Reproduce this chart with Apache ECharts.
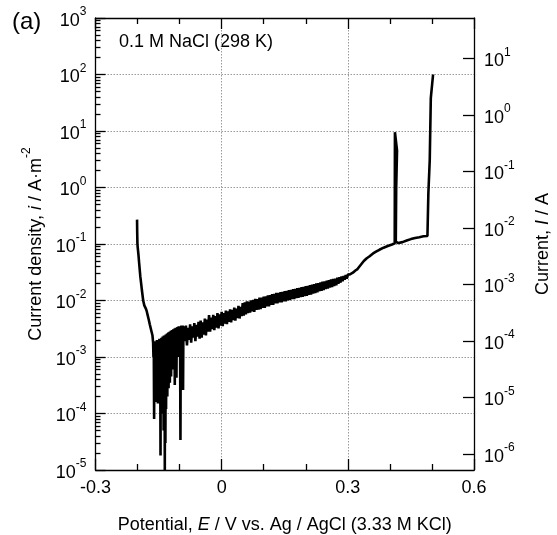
<!DOCTYPE html>
<html>
<head>
<meta charset="utf-8">
<script src="https://cdn.jsdelivr.net/npm/echarts@6/dist/echarts.min.js"></script>
<style>html,body{margin:0;padding:0;background:#fff}#c{width:557px;height:535px}</style>
</head>
<body>
<div id="c"></div>
<script>
// ---- data: potential E (V vs Ag/AgCl) and current density i (A/m^2)
const eDescent = [-0.2012,-0.2009,-0.2003,-0.1995,-0.1980,-0.1960,-0.1935,-0.1900,-0.1866,-0.1840,-0.1820,-0.1800,-0.1780,-0.1760,-0.1735,-0.1710,-0.1690,-0.1667,-0.1645];
const iDescent = [0.27,0.17,0.10,0.085,0.066,0.044,0.027,0.016,0.010,0.0082,0.0086,0.0071,0.0064,0.0055,0.0046,0.0038,0.0033,0.0028,0.0024];

const eMin = [-0.1630,-0.1622,-0.1615,-0.1606,-0.1600,-0.1592,-0.1585,-0.1577,-0.1570,-0.1562,-0.1555,-0.1547,-0.1540,-0.1532,-0.1525,-0.1517,-0.1510,-0.1502,-0.1495,-0.1487,-0.1480,-0.1472,-0.1465,-0.1458,-0.1454,-0.1448,-0.1440,-0.1432,-0.1425,-0.1418,-0.1410,-0.1402,-0.1395,-0.1388,-0.1380,-0.1372,-0.1365,-0.1358,-0.1352,-0.1346,-0.1338,-0.1330,-0.1322,-0.1315,-0.1307,-0.1300,-0.1292,-0.1285,-0.1277,-0.1270,-0.1262,-0.1255,-0.1247,-0.1240,-0.1232,-0.1225,-0.1217,-0.1210,-0.1202,-0.1195,-0.1187,-0.1180,-0.1172,-0.1165,-0.1157,-0.1150,-0.1142,-0.1135,-0.1127,-0.1120,-0.1115,-0.1108,-0.1100,-0.1093,-0.1085,-0.1078,-0.1075,-0.1068,-0.1060,-0.1052,-0.1045,-0.1037,-0.1030,-0.1022,-0.1015,-0.1007,-0.1000,-0.0990,-0.0980,-0.0972,-0.0965,-0.0957,-0.0950,-0.0942,-0.0935,-0.0927,-0.0918,-0.0910,-0.0903];
const iMin = [1.8e-3,1.0e-3,1.9e-3,8.0e-5,1.7e-3,2.5e-4,1.8e-3,1.8e-4,1.9e-3,3.0e-4,1.8e-3,1.6e-4,2.0e-3,2.8e-4,1.9e-3,1.5e-4,2.0e-3,3.5e-4,1.9e-3,2.0e-4,2.1e-3,2.6e-4,2.0e-3,1.7e-4,1.8e-5,2.0e-3,2.2e-4,2.2e-3,1.2e-4,2.1e-3,3.0e-4,2.3e-3,1.0e-4,2.2e-3,5.0e-5,2.4e-3,1.5e-4,2.3e-3,1.0e-5,2.2e-3,3.0e-5,2.5e-3,1.2e-4,2.4e-3,2.5e-4,2.6e-3,2.0e-4,2.5e-3,3.5e-4,2.7e-3,2.8e-4,2.6e-3,4.5e-4,2.8e-3,3.5e-4,2.7e-3,5.5e-4,2.9e-3,4.5e-4,2.8e-3,7.0e-4,3.0e-3,6.0e-4,2.9e-3,8.0e-4,3.1e-3,7.0e-4,3.0e-3,9.0e-4,3.2e-3,3.2e-4,3.1e-3,1.0e-3,3.3e-3,8.0e-4,3.2e-3,4.3e-4,3.3e-3,1.1e-3,3.4e-3,1.0e-3,3.3e-3,1.3e-3,3.5e-3,1.2e-3,3.4e-3,1.5e-3,3.5e-3,3.4e-5,3.4e-3,1.5e-3,3.6e-3,1.7e-3,3.5e-3,1.5e-3,3.6e-3,2.6e-4,3.5e-3,2.0e-3];

const eBand = [-0.0900,-0.0875,-0.0850,-0.0825,-0.0800,-0.0775,-0.0750,-0.0725,-0.0700,-0.0675,-0.0650,-0.0625,-0.0600,-0.0575,-0.0550,-0.0525,-0.0500,-0.0475,-0.0450,-0.0425,-0.0400,-0.0375,-0.0350,-0.0325,-0.0300,-0.0275,-0.0250,-0.0225,-0.0200,-0.0175,-0.0150,-0.0125,-0.0100,-0.0075,-0.0050,-0.0025,0.0000,0.0025,0.0050,0.0075,0.0100,0.0125,0.0150,0.0175,0.0200,0.0225,0.0250,0.0275,0.0300,0.0325,0.0350,0.0375,0.0400,0.0425,0.0450,0.0475,0.0500,0.0525,
  0.0550,0.0575,0.0600,0.0625,0.0650,0.0675,0.0700,0.0725,0.0750,0.0775,0.0800,0.0825,0.0850,0.0875,0.0900,0.0925,0.0950,0.0975,0.1000,0.1025,0.1050,0.1075,0.1100,0.1125,0.1150,0.1175,0.1200,0.1225,0.1250,0.1275,0.1300,0.1325,0.1350,0.1375,0.1400,0.1425,0.1450,0.1475,0.1500,0.1525,0.1550,0.1575,0.1600,0.1625,0.1650,0.1675,0.1700,0.1725,0.1750,0.1775,0.1800,0.1825,0.1850,0.1875,0.1900,0.1925,0.1950,0.1975,0.2000,0.2025,0.2050,0.2075,0.2100,0.2125,0.2150,0.2175,0.2200,0.2225,0.2250,0.2275,0.2300,0.2325,0.2350,0.2375,0.2400,0.2425,0.2450,0.2475,0.2500,0.2525,0.2550,0.2575,0.2600,0.2625,0.2650,0.2675,0.2700,0.2725,0.2750,0.2775,0.2800,0.2825,0.2850,0.2875,0.2900,0.2925,0.2950,0.2975,0.3000];
const iBand = [3.4e-3,1.9e-3,3.6e-3,1.6e-3,3.3e-3,2.0e-3,3.8e-3,1.8e-3,3.5e-3,2.2e-3,4.0e-3,1.9e-3,3.7e-3,2.3e-3,4.2e-3,2.1e-3,4.4e-3,2.2e-3,4.1e-3,2.5e-3,4.8e-3,2.4e-3,4.6e-3,2.8e-3,5.5e-3,2.8e-3,5.0e-3,3.1e-3,5.6e-3,3.0e-3,5.3e-3,3.3e-3,6.0e-3,3.2e-3,5.7e-3,3.6e-3,6.3e-3,3.5e-3,6.0e-3,3.9e-3,6.6e-3,3.8e-3,6.4e-3,4.2e-3,7.0e-3,4.1e-3,6.8e-3,4.5e-3,7.5e-3,4.4e-3,7.2e-3,4.9e-3,8.0e-3,4.8e-3,7.7e-3,5.3e-3,9.0e-3,5.4e-3,
  9.3e-3,5.7e-3,9.7e-3,6.0e-3,9.6e-3,6.1e-3,1.01e-2,6.4e-3,1.03e-2,6.3e-3,1.07e-2,6.8e-3,1.06e-2,6.9e-3,1.12e-2,7.0e-3,1.13e-2,7.4e-3,1.17e-2,7.4e-3,1.18e-2,7.9e-3,1.23e-2,7.9e-3,1.24e-2,8.4e-3,1.29e-2,8.4e-3,1.31e-2,8.9e-3,1.36e-2,8.9e-3,1.37e-2,9.3e-3,1.41e-2,9.3e-3,1.42e-2,9.7e-3,1.47e-2,9.7e-3,1.48e-2,1.01e-2,1.53e-2,1.02e-2,1.54e-2,1.06e-2,1.59e-2,1.06e-2,1.61e-2,1.10e-2,1.66e-2,1.11e-2,1.67e-2,1.15e-2,1.73e-2,1.16e-2,1.74e-2,1.20e-2,1.80e-2,1.21e-2,1.81e-2,1.26e-2,1.87e-2,1.27e-2,1.90e-2,1.33e-2,1.94e-2,1.35e-2,2.01e-2,1.39e-2,2.03e-2,1.46e-2,2.08e-2,1.48e-2,2.15e-2,1.53e-2,2.18e-2,1.59e-2,2.25e-2,1.62e-2,2.28e-2,1.70e-2,2.35e-2,1.73e-2,2.41e-2,1.80e-2,2.44e-2,1.86e-2,2.53e-2,1.98e-2,2.58e-2,2.07e-2,2.67e-2,2.19e-2,2.72e-2,2.33e-2,2.82e-2,2.43e-2,2.88e-2];

const eAnodic = [0.305,0.312,0.318,0.323,0.330,0.338,0.345,0.351,0.360,0.368,0.375,0.385,0.395,0.405,0.4115,0.4120,0.4170,0.4150,0.4140,0.4200,0.4300,0.4400,0.4500,0.4600,0.4700,0.4800,0.4893,0.4905,0.4915,0.4948,0.4973,0.5027];
const iAnodic = [0.029,0.031,0.034,0.036,0.042,0.050,0.056,0.060,0.068,0.074,0.079,0.086,0.092,0.098,0.103,9.5,4.5,1.0,0.11,0.104,0.108,0.115,0.122,0.128,0.132,0.137,0.139,0.145,0.8,3.1,38,100];

// axis settings
const xTicks = [-0.3, 0, 0.3, 0.6];
const leftDecades = [-5,-4,-3,-2,-1,0,1,2,3];
const rightDecades = [-6,-5,-4,-3,-2,-1,0,1];
const rightShiftDecades = 1.287; // right axis (current, A) = left (density) shifted down by this many decades

const E = eDescent.concat(eMin, eBand, eAnodic);
const I = iDescent.concat(iMin, iBand, iAnodic);
const data = E.map((e, k) => [e, I[k]]);

const minorVals = [];
for (let n = leftDecades[0]; n < leftDecades[leftDecades.length-1]; n++) {
  for (let k = 2; k <= 9; k++) minorVals.push(k * Math.pow(10, n));
}

const FONT = 'Liberation Sans, Arial, Helvetica, sans-serif';
const rich = {
  b: {fontSize: 18, fontFamily: FONT, color: '#000', lineHeight: 24, verticalAlign: 'bottom'},
  s: {fontSize: 12, fontFamily: FONT, color: '#000', lineHeight: 12, verticalAlign: 'top'},
  i: {fontSize: 18, fontFamily: FONT, color: '#000', fontStyle: 'italic', lineHeight: 24, verticalAlign: 'bottom'},
  n: {fontSize: 18, fontFamily: FONT, color: '#000', lineHeight: 24, verticalAlign: 'bottom'}
};
const expFmt = v => '{b|10}{s|' + Math.round(Math.log10(v)) + '}';
const black = {color: '#000', width: 1.3};
const gridLine = {show: true, lineStyle: {color: '#9a9a9a', type: [1.5, 1.5], width: 1}};

const chart = echarts.init(document.getElementById('c'), null, {renderer: 'canvas'});
chart.setOption({
  animation: false,
  backgroundColor: '#fff',
  grid: {left: 95.5, right: 83, top: 18, bottom: 65, containLabel: false, outerBoundsMode: 'none'},
  graphic: [
    {type: 'text', left: 12, top: 10, style: {text: '(a)', fontSize: 24, fontFamily: FONT, fill: '#000'}},
    {type: 'text', left: 119, top: 33, style: {text: '0.1 M NaCl (298 K)', fontSize: 18, fontFamily: FONT, fill: '#000'}}
  ],
  xAxis: [
    {type: 'value', position: 'bottom', min: xTicks[0], max: xTicks[xTicks.length-1], interval: 0.3,
     axisLine: {show: true, onZero: false, lineStyle: black},
     axisTick: {show: true, inside: true, length: 11, lineStyle: black},
     minorTick: {show: true, splitNumber: 3, length: 6, lineStyle: black},
     splitLine: gridLine,
     axisLabel: {fontSize: 18, fontFamily: FONT, color: '#000', margin: 9},
     name: '{n|Potential, }{i|E}{n| / V vs. Ag / AgCl (3.33 M KCl)}', nameLocation: 'middle', nameGap: 40,
     nameTextStyle: {fontSize: 18, fontFamily: FONT, color: '#000', rich: rich}},
    {type: 'value', position: 'top', min: xTicks[0], max: xTicks[xTicks.length-1], interval: 0.3,
     axisLine: {show: true, onZero: false, lineStyle: black},
     axisTick: {show: true, inside: true, length: 11, lineStyle: black},
     minorTick: {show: true, splitNumber: 3, length: 6, lineStyle: black},
     splitLine: {show: false}, axisLabel: {show: false}}
  ],
  yAxis: [
    {type: 'log', logBase: 10, position: 'left', min: Math.pow(10, leftDecades[0]), max: Math.pow(10, leftDecades[leftDecades.length-1]),
     axisLine: {show: true, onZero: false, lineStyle: black},
     axisTick: {show: true, inside: true, length: 10, lineStyle: black},
     splitLine: gridLine,
     axisLabel: {formatter: expFmt, rich: rich, margin: 9},
     name: '{n|Current density, }{i|i}{n| / A·m}{s|-2}', nameLocation: 'middle', nameGap: 48, nameRotate: 90,
     nameTextStyle: {fontSize: 18, fontFamily: FONT, color: '#000', rich: rich}},
    {type: 'log', logBase: 10, position: 'right',
     min: Math.pow(10, leftDecades[0] - rightShiftDecades), max: Math.pow(10, leftDecades[leftDecades.length-1] - rightShiftDecades),
     axisLine: {show: true, onZero: false, lineStyle: black},
     axisTick: {show: true, inside: true, length: 11, lineStyle: black, customValues: rightDecades.map(n => Math.pow(10, n))},
     splitLine: {show: false},
     axisLabel: {formatter: expFmt, rich: rich, margin: 10, customValues: rightDecades.map(n => Math.pow(10, n))},
     name: '{n|Current, }{i|I}{n| / A}', nameLocation: 'middle', nameGap: 54, nameRotate: 90,
     nameTextStyle: {fontSize: 18, fontFamily: FONT, color: '#000', rich: rich}},
    {type: 'log', logBase: 10, position: 'left', offset: 0, min: Math.pow(10, leftDecades[0]), max: Math.pow(10, leftDecades[leftDecades.length-1]),
     axisLine: {show: false, onZero: false},
     axisTick: {show: true, inside: true, length: 5, lineStyle: black, customValues: minorVals},
     splitLine: {show: false}, axisLabel: {show: false}}
  ],
  series: [{
    type: 'line', xAxisIndex: 0, yAxisIndex: 0, data: data, showSymbol: false, symbol: 'none',
    lineStyle: {color: '#000', width: 2.6}, clip: true
  }]
});
</script>
</body>
</html>
